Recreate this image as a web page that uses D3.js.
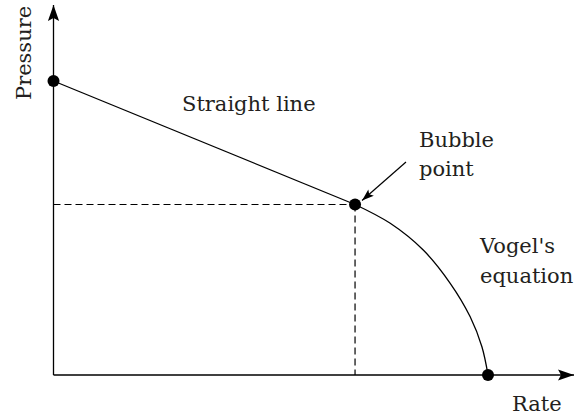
<!DOCTYPE html>
<html>
<head lang="en">
    <meta charset="UTF-8">
    <title></title>
    <script src="https://cdn.jsdelivr.net/npm/d3@7/dist/d3.min.js" charset="UTF-8"></script>
    <style>
        body{margin:0;background:#fff;}
    </style>
</head>
<body>
<script>
    // points (rate 0..100 = max rate, pressure 0..100 = reservoir pressure)
    var lineRate=[0,69.4];
    var linePressure=[100,58];
    var vogelRate=[69.4,77.5,85.1,91.3,95.9,98.6,100];
    var vogelPressure=[58,51.6,42.5,31.2,19.8,9.6,0];
    var dotRate=[0,69.4,100];
    var dotPressure=[100,58,0];
    var bubbleRate=69.4, bubblePressure=58;

    var _svg = d3.select("body")
            .append("svg")
            .attr("width","576")
            .attr("height","417");

    var _xscale = d3.scaleLinear()
            .domain([0,100])
            .range([53.5,488]);
    var _yscale = d3.scaleLinear()
            .domain([0,100])
            .range([375,81]);

    var _defs = _svg.append("defs");
    _defs.append("marker")
            .attr("id","bigarrow")
            .attr("viewBox","-16 -6 17 12")
            .attr("markerWidth",17)
            .attr("markerHeight",12)
            .attr("markerUnits","userSpaceOnUse")
            .attr("refX",0).attr("refY",0)
            .attr("orient","auto")
            .append("path")
            .attr("d","M0,0 L-16,-5.6 L-13,0 L-16,5.6 Z")
            .attr("fill","#000");
    _defs.append("marker")
            .attr("id","smallarrow")
            .attr("viewBox","-13 -5 14 10")
            .attr("markerWidth",14)
            .attr("markerHeight",10)
            .attr("markerUnits","userSpaceOnUse")
            .attr("refX",0).attr("refY",0)
            .attr("orient","auto")
            .append("path")
            .attr("d","M0,0 L-12,-4.2 L-9.5,0 L-12,4.2 Z")
            .attr("fill","#000");

    // axes with arrow heads
    var _gaxis = _svg.append("g");
    _gaxis.append("line")
            .attr("x1",_xscale(0)).attr("y1",_yscale(0))
            .attr("x2",574).attr("y2",_yscale(0))
            .attr("stroke","#000").attr("stroke-width",1.3)
            .attr("marker-end","url(#bigarrow)");
    _gaxis.append("line")
            .attr("x1",_xscale(0)).attr("y1",_yscale(0))
            .attr("x2",_xscale(0)).attr("y2",5)
            .attr("stroke","#000").attr("stroke-width",1.3)
            .attr("marker-end","url(#bigarrow)");

    // dashed guides to the bubble point
    var _gdash = _svg.append("g")
            .attr("stroke","#000")
            .attr("stroke-width",1.2)
            .attr("stroke-dasharray","7,4");
    _gdash.append("line")
            .attr("x1",_xscale(0)).attr("y1",_yscale(bubblePressure))
            .attr("x2",_xscale(bubbleRate)).attr("y2",_yscale(bubblePressure));
    _gdash.append("line")
            .attr("x1",_xscale(bubbleRate)).attr("y1",_yscale(bubblePressure))
            .attr("x2",_xscale(bubbleRate)).attr("y2",_yscale(0));

    var _line = d3.line()
            .x(function(d){return _xscale(d[0]);})
            .y(function(d){return _yscale(d[1]);});
    _svg.append("path")
            .datum(d3.zip(lineRate,linePressure))
            .attr("d",_line)
            .attr("fill","none")
            .attr("stroke","#000")
            .attr("stroke-width",1.3);
    _svg.append("path")
            .datum(d3.zip(vogelRate,vogelPressure))
            .attr("d",_line.curve(d3.curveCatmullRom.alpha(0.5)))
            .attr("fill","none")
            .attr("stroke","#000")
            .attr("stroke-width",1.3);

    _svg.append("g")
            .selectAll("circle")
            .data(d3.zip(dotRate,dotPressure))
            .enter()
            .append("circle")
            .attr("cx",function(d){return _xscale(d[0]);})
            .attr("cy",function(d){return _yscale(d[1]);})
            .attr("r",6)
            .attr("fill","#000");

    // pointer to bubble point
    _svg.append("line")
            .attr("x1",406).attr("y1",162)
            .attr("x2",_xscale(bubbleRate)+7).attr("y2",_yscale(bubblePressure)-4)
            .attr("stroke","#000").attr("stroke-width",1.2)
            .attr("marker-end","url(#smallarrow)");

    var _labels = _svg.append("g")
            .attr("font-family","'DejaVu Serif', serif")
            .attr("font-size","21px")
            .attr("fill","#231f20");
    _labels.append("text").attr("x",182).attr("y",111).text("Straight line");
    _labels.append("text").attr("x",419).attr("y",147).text("Bubble");
    _labels.append("text").attr("x",419).attr("y",176).text("point");
    _labels.append("text").attr("x",480).attr("y",253).text("Vogel's");
    _labels.append("text").attr("x",480).attr("y",283).text("equation");
    _labels.append("text").attr("x",512).attr("y",411).text("Rate");
    _labels.append("text")
            .attr("transform","translate(31,100) rotate(-90)")
            .text("Pressure");
</script>

</body>
</html>
